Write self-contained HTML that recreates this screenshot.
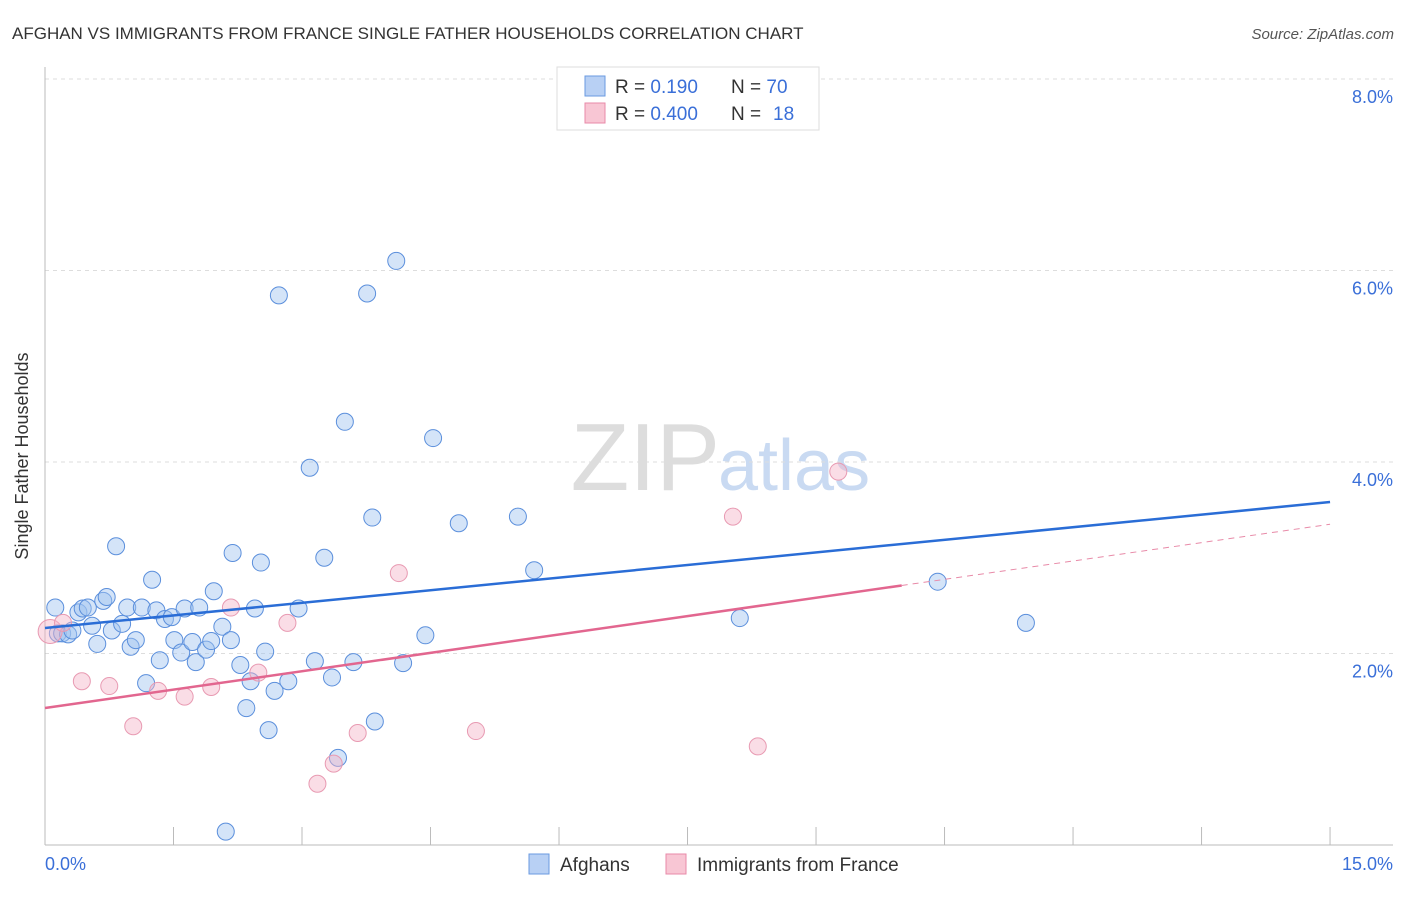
<!DOCTYPE html>
<html><head><meta charset="utf-8"><style>
body{margin:0;background:#fff;font-family:"Liberation Sans",sans-serif;}
svg text{font-family:"Liberation Sans",sans-serif;}
</style></head><body>
<svg id="c" width="1406" height="892">
<text x="12" y="39" font-size="17" fill="#333">AFGHAN VS IMMIGRANTS FROM FRANCE SINGLE FATHER HOUSEHOLDS CORRELATION CHART</text>
<text x="1394" y="39" font-size="15" fill="#555" font-style="italic" text-anchor="end">Source: ZipAtlas.com</text>
<text x="720" y="490" font-size="96" fill="#ddd" font-family="Liberation Serif" text-anchor="end">ZIP</text>
<text x="718" y="490" font-size="72" fill="#c9daf2">atlas</text>
<g id="grid"></g>
<line x1="45" y1="67" x2="45" y2="845" stroke="#bbb"/>
<line x1="45" y1="845" x2="1393" y2="845" stroke="#bbb"/>
<g id="ticks"></g>
<text x="28" y="456" font-size="18" fill="#333" text-anchor="middle" transform="rotate(-90 28 456)">Single Father Households</text>
<text x="45" y="870" font-size="18" fill="#3a6fd8">0.0%</text>
<text x="1393" y="870" font-size="18" fill="#3a6fd8" text-anchor="end">15.0%</text>
<g id="pts"></g>
<g id="lines"></g>
<g>
<rect x="557" y="67" width="262" height="63" fill="#fff" stroke="#ddd"/>
<rect x="585" y="76" width="20" height="20" fill="#b8d0f4" stroke="#6a9ae0"/>
<rect x="585" y="103" width="20" height="20" fill="#f8c6d4" stroke="#e88aa8"/>
<text x="615" y="93" font-size="19" fill="#333">R = <tspan fill="#3a6fd8">0.190</tspan><tspan x="731">N = </tspan><tspan fill="#3a6fd8">70</tspan></text>
<text x="615" y="120" font-size="19" fill="#333">R = <tspan fill="#3a6fd8">0.400</tspan><tspan x="731">N = </tspan><tspan fill="#3a6fd8" x="773">18</tspan></text>
</g>
<g>
<rect x="529" y="854" width="20" height="20" fill="#b8d0f4" stroke="#6a9ae0"/>
<text x="560" y="871" font-size="19" fill="#333">Afghans</text>
<rect x="666" y="854" width="20" height="20" fill="#f8c6d4" stroke="#e88aa8"/>
<text x="697" y="871" font-size="19" fill="#333">Immigrants from France</text>
</g>
</svg>
<script>
const yTicks=[2,4,6,8];
const yTickLabels=["2.0%","4.0%","6.0%","8.0%"];
const xTicks=[0,1.5,3,4.5,6,7.5,9,10.5,12,13.5,15];
const afgX=[0.12,0.15,0.2,0.27,0.32,0.39,0.44,0.5,0.55,0.61,0.68,0.72,0.78,0.83,0.9,0.96,1.0,1.06,1.13,1.18,1.25,1.3,1.34,1.4,1.48,1.51,1.59,1.63,1.72,1.76,1.8,1.88,1.94,1.97,2.07,2.11,2.17,2.19,2.28,2.35,2.4,2.45,2.52,2.57,2.61,2.68,2.73,2.84,2.96,3.09,3.15,3.26,3.35,3.42,3.5,3.6,3.76,3.82,3.85,4.1,4.18,4.44,4.53,4.83,5.52,5.71,8.11,10.42,11.45];
const afgY=[2.48,2.21,2.21,2.2,2.24,2.43,2.47,2.48,2.29,2.1,2.55,2.59,2.24,3.12,2.31,2.48,2.07,2.14,2.48,1.69,2.77,2.45,1.93,2.36,2.38,2.14,2.01,2.47,2.12,1.91,2.48,2.04,2.13,2.65,2.28,0.14,2.14,3.05,1.88,1.43,1.71,2.47,2.95,2.02,1.2,1.61,5.74,1.71,2.47,3.94,1.92,3.0,1.75,0.91,4.42,1.91,5.76,3.42,1.29,6.1,1.9,2.19,4.25,3.36,3.43,2.87,2.37,2.75,2.32];
const fraX=[0.06,0.21,0.43,0.75,1.03,1.32,1.63,1.94,2.17,2.49,2.83,3.18,3.37,3.65,4.13,5.03,8.03,8.32,9.26];
const fraY=[2.23,2.32,1.71,1.66,1.24,1.61,1.55,1.65,2.48,1.8,2.32,0.64,0.85,1.17,2.84,1.19,3.43,1.03,3.9];
const regA=[2.266,3.582], regB=[1.431,3.35];
const NS="http://www.w3.org/2000/svg";
const sx=v=>45+v*85.67, sy=v=>845-v*95.75;
function mk(t,a,p){const e=document.createElementNS(NS,t);for(const k in a)e.setAttribute(k,a[k]);p.appendChild(e);return e;}
const grid=document.getElementById('grid');
yTicks.forEach((v,i)=>{
 const l=mk('line',{x1:45,x2:1393,y1:sy(v),y2:sy(v),stroke:'#ddd','stroke-dasharray':'4 4'},grid);
 
 
 const t=mk('text',{x:1393,y:sy(v)+24,'font-size':18,fill:'#3a6fd8','text-anchor':'end'},grid);
 t.textContent=yTickLabels[i];
 
 
});
const tk=document.getElementById('ticks');
xTicks.forEach(v=>{
 const l=mk('line',{x1:sx(v),x2:sx(v),y1:827,y2:845,stroke:'#bbb'},tk);
 
 
});
const pts=document.getElementById('pts');
afgX.forEach((x,i)=>{
 const c=mk('circle',{cx:sx(x),cy:sy(afgY[i]),r:8.5,fill:'rgba(160,195,240,0.45)',stroke:'#5b8fdc','stroke-width':1},pts);
 
 
});
fraX.forEach((x,i)=>{
 const c=mk('circle',{cx:sx(x),cy:sy(fraY[i]),r:i==0?12:8.5,fill:'rgba(245,180,200,0.45)',stroke:'#e89ab2','stroke-width':1},pts);
 
 
});
const ln=document.getElementById('lines');
let a=mk('line',{x1:sx(0),y1:sy(regA[0]),x2:sx(15),y2:sy(regA[1]),stroke:'#2a6dd6','stroke-width':2.5},ln);


const yb=x=>regB[0]+(regB[1]-regB[0])*x/15;
let b=mk('line',{x1:sx(0),y1:sy(yb(0)),x2:sx(10),y2:sy(yb(10)),stroke:'#e2668f','stroke-width':2.5},ln);


let d=mk('line',{x1:sx(10),y1:sy(yb(10)),x2:sx(15),y2:sy(yb(15)),stroke:'#e88aa8','stroke-width':1,'stroke-dasharray':'6 5'},ln);


</script>
</body></html>
